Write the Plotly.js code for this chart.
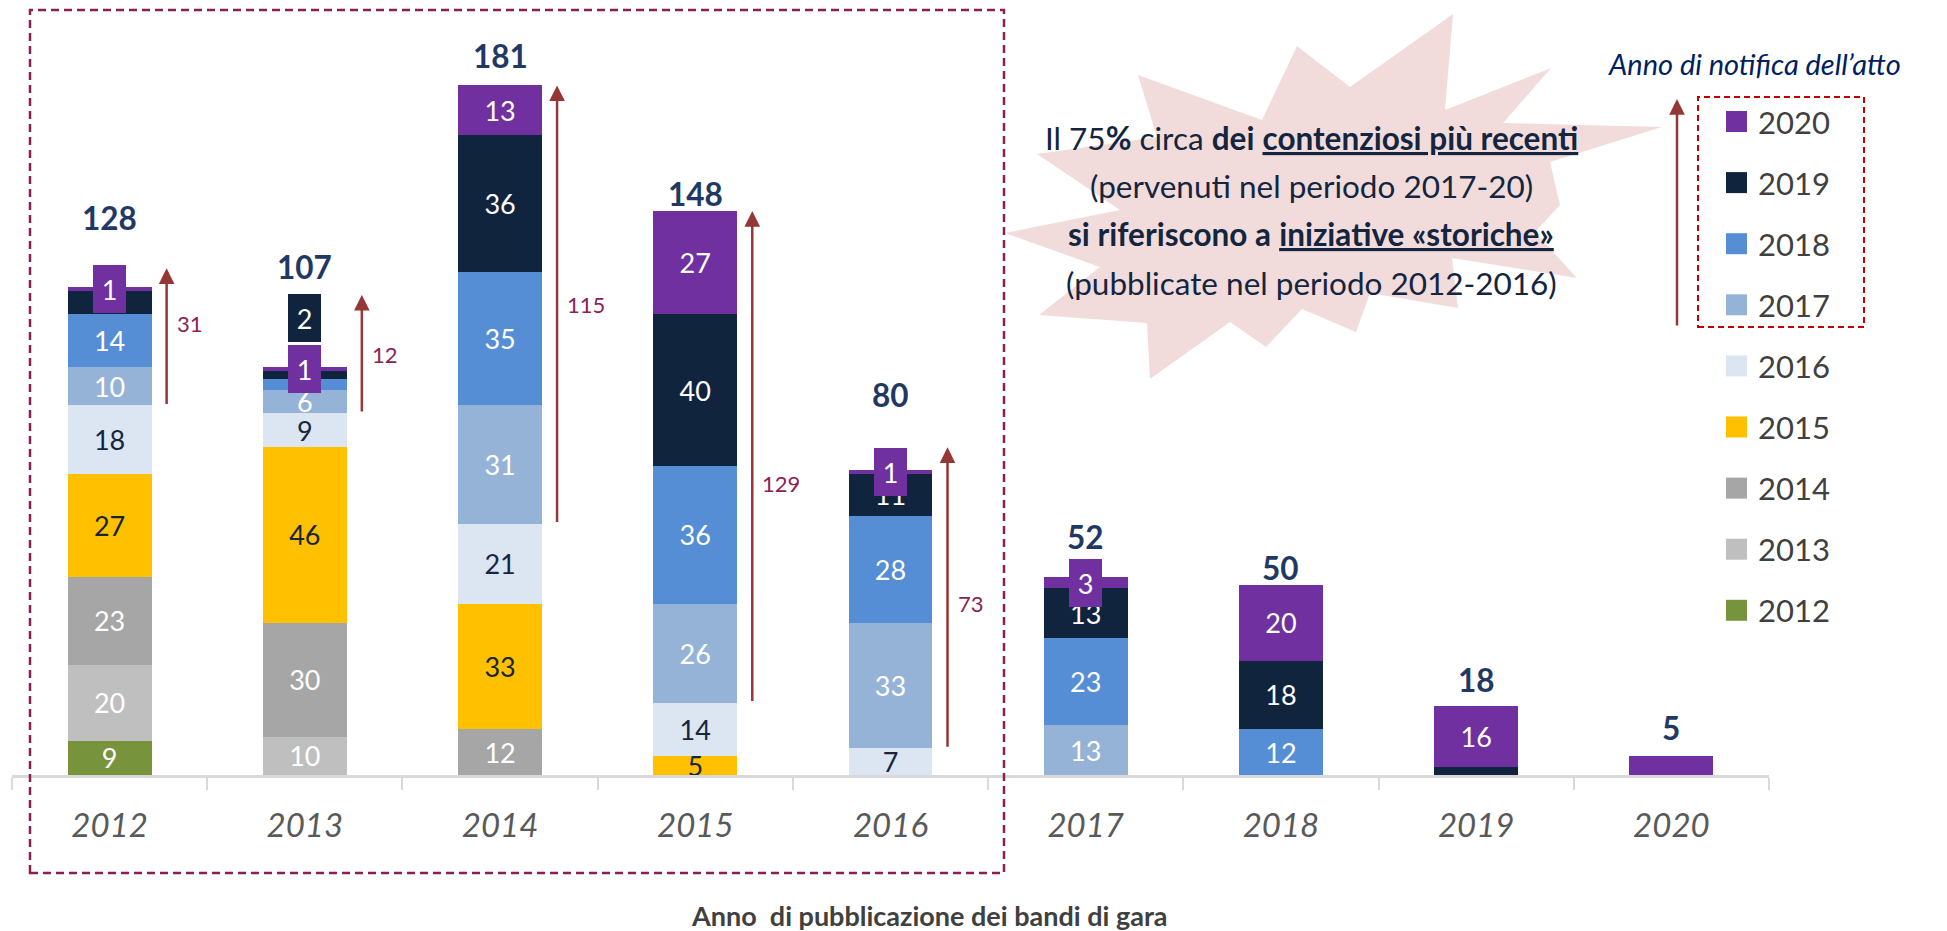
<!DOCTYPE html>
<html>
<head>
<meta charset="utf-8">
<script src="https://cdn.plot.ly/plotly-3.0.1.min.js"></script>
<style>
html,body{margin:0;padding:0;background:#ffffff;}
#chart{width:1947px;height:931px;}
</style>
</head>
<body>
<div id="chart"></div>
<script>
// ---------------- DATA ----------------
// Publication year of the tender (x categories)
const categories = ['2012','2013','2014','2015','2016','2017','2018','2019','2020'];
// Notification year of the act (stacked series, bottom to top)
const seriesNames = ['2012','2013','2014','2015','2016','2017','2018','2019','2020'];
const notif2012 = [9, 0, 0, 0, 0, 0, 0, 0, 0];
const notif2013 = [20, 10, 0, 0, 0, 0, 0, 0, 0];
const notif2014 = [23, 30, 12, 0, 0, 0, 0, 0, 0];
const notif2015 = [27, 46, 33, 5, 0, 0, 0, 0, 0];
const notif2016 = [18, 9, 21, 14, 7, 0, 0, 0, 0];
const notif2017 = [10, 6, 31, 26, 33, 13, 0, 0, 0];
const notif2018 = [14, 3, 35, 36, 28, 23, 12, 0, 0];
const notif2019 = [6, 2, 36, 40, 11, 13, 18, 2, 0];
const notif2020 = [1, 1, 13, 27, 1, 3, 20, 16, 5];
const seriesValues = [notif2012, notif2013, notif2014, notif2015, notif2016,
                      notif2017, notif2018, notif2019, notif2020];
// historical tenders and recent notifications (for the arrows)
const historicalBars = ['2012','2013','2014','2015','2016'];
const recentSeries = ['2017','2018','2019','2020'];
// thin segments whose value is shown in a callout box
const callouts = [
  {bar:'2012', series:'2020'},
  {bar:'2013', series:'2019'},
  {bar:'2013', series:'2020'},
  {bar:'2016', series:'2020'},
  {bar:'2017', series:'2020'}
];
// segment labels hidden behind a callout box in the original
const hiddenLabels = ['2012|2019'];
const legendTitle = 'Anno di notifica dell\u2019atto';
const axisTitle = 'Anno\u00a0 di pubblicazione dei bandi di gara';
const noteLines = [
  'Il 75<b>%</b> circa <b>dei</b> <b><u>contenziosi più recenti</u></b>',
  '(pervenuti nel periodo 2017-20)',
  '<b>si riferiscono a</b> <b><u>iniziative «storiche»</u></b>',
  '(pubblicate nel periodo 2012-2016)'
];

// ---------------- STYLE ----------------
const seriesColors = ['#77933C','#BFBFBF','#A6A6A6','#FFC000','#DCE6F2',
                      '#95B3D7','#558ED5','#10243E','#7030A0'];
const labelColors = ['#FFFFFF','#FFFFFF','#FFFFFF','#17253F','#17253F',
                     '#FFFFFF','#FFFFFF','#FFFFFF','#FFFFFF'];
const totalShift = [69, 100, 29, 17, 75, 40, 17, 26, 28];   // px above bar top
const calloutLift = {'2013|2019': 57};                       // px
const arrowTipPad = [5, 19, 0, 0, 6];                        // y-units above total
const arrowLabelShift = [13, 0, 0, -27, -6];                 // px
const ARROW_DX = 0.292;                                      // category units
const FONT = 'Lato';

const W = 1947, H = 931, ML = 12, MR = 178, MT = 13, MB = 156;
const PW = W - ML - MR, PH = H - MT - MB;
const px = x => (x - ML) / PW;
const py = y => (H - MB - y) / PH;

// ---------------- TRACES ----------------
const totals = categories.map((c, i) => seriesValues.reduce((a, s) => a + s[i], 0));

const traces = seriesNames.map((name, s) => ({
  type: 'bar',
  name: name,
  x: categories,
  y: seriesValues[s],
  marker: {color: seriesColors[s], line: {width: 0}},
  text: seriesValues[s].map((v, i) =>
    (v >= 5 && v < totals[i] && !hiddenLabels.includes(categories[i] + '|' + name)) ? String(v) : ''),
  textposition: 'inside',
  insidetextanchor: 'middle',
  constraintext: 'none',
  textangle: 0,
  cliponaxis: false,
  textfont: {family: FONT, size: 27, color: labelColors[s]},
  showlegend: false,
  hovertemplate: 'Bando %{x}<br>Notifica ' + name + ': %{y}<extra></extra>'
}));

// ---------------- ANNOTATIONS ----------------
// (category axis positions are given as category index)
const annotations = [];

// totals
categories.forEach((c, i) => {
  annotations.push({
    x: i, y: totals[i], xref: 'x', yref: 'y', yshift: totalShift[i],
    text: String(totals[i]), showarrow: false, xanchor: 'center', yanchor: 'middle',
    font: {family: FONT, size: 31.5, weight: 700, color: '#1F3864'}
  });
});

// callout boxes
callouts.forEach(co => {
  const i = categories.indexOf(co.bar);
  const s = seriesNames.indexOf(co.series);
  let base = 0;
  for (let k = 0; k < s; k++) base += seriesValues[k][i];
  const v = seriesValues[s][i];
  annotations.push({
    x: i, y: base + v / 2, xref: 'x', yref: 'y',
    yshift: calloutLift[co.bar + '|' + co.series] || 0,
    text: String(v), showarrow: false, xanchor: 'center', yanchor: 'middle',
    bgcolor: seriesColors[s], borderpad: 0, borderwidth: 0, width: 33, height: 48,
    font: {family: FONT, size: 27, color: '#FFFFFF'}
  });
});

// arrows for historical tenders
historicalBars.forEach((b, j) => {
  const i = categories.indexOf(b);
  let older = 0, recent = 0;
  seriesNames.forEach((n, s) => {
    if (recentSeries.includes(n)) recent += seriesValues[s][i];
    else older += seriesValues[s][i];
  });
  const tip = totals[i] + arrowTipPad[j];
  annotations.push({
    x: i + ARROW_DX, y: tip, xref: 'x', yref: 'y',
    ax: i + ARROW_DX, ay: older, axref: 'x', ayref: 'y',
    text: '', showarrow: true, arrowhead: 2, arrowsize: 1.25, arrowwidth: 2.5,
    arrowcolor: '#953735', standoff: 0, startstandoff: 0
  });
  annotations.push({
    x: i + ARROW_DX, y: (older + tip) / 2, xref: 'x', yref: 'y',
    xshift: 8, yshift: arrowLabelShift[j],
    text: String(recent), showarrow: false, xanchor: 'left', yanchor: 'middle',
    font: {family: FONT, size: 22, color: '#8B2252'}
  });
});

// note inside the starburst
const noteY = [137.5, 186, 234, 282.5];
noteLines.forEach((t, k) => {
  annotations.push({
    x: px(1311), y: py(noteY[k]), xref: 'paper', yref: 'paper',
    text: t, showarrow: false, xanchor: 'center', yanchor: 'middle',
    font: {family: FONT, size: 31.5, color: '#14253F'}
  });
});

// legend title
annotations.push({
  x: px(1606), y: py(64), xref: 'paper', yref: 'paper', text: legendTitle,
  showarrow: false, xanchor: 'left', yanchor: 'middle',
  font: {family: FONT, size: 29, style: 'italic', color: '#002060'}
});

// legend arrow
annotations.push({
  x: px(1677), y: py(99), xref: 'paper', yref: 'paper',
  ax: 0, ay: 228, axref: 'pixel', ayref: 'pixel', text: '',
  showarrow: true, arrowhead: 2, arrowsize: 1.25, arrowwidth: 2.5,
  arrowcolor: '#953735', standoff: 0
});

// axis title
annotations.push({
  x: px(929), y: py(915), xref: 'paper', yref: 'paper', text: axisTitle,
  showarrow: false, xanchor: 'center', yanchor: 'middle',
  font: {family: FONT, size: 27, weight: 700, color: '#404040'}
});

// ---------------- SHAPES ----------------
const shapes = [];

// starburst (decoration)
const starPts = [
  [1453,14],[1445,110],[1551,68],[1503,123],[1662,127],[1550,162],[1560,205],
  [1535,232],[1577,278],[1452,258],[1458,308],[1370,293],[1356,332],[1302,309],
  [1266,347],[1230,322],[1150,379],[1147,323],[1039,315],[1100,267],[1005,233],
  [1120,210],[1037,154],[1157,137],[1138,75],[1262,120],[1297,46],[1350,87]
];
shapes.push({
  type: 'path', xref: 'paper', yref: 'paper', layer: 'below',
  path: 'M' + starPts.map(p => px(p[0]).toFixed(5) + ',' + py(p[1]).toFixed(5)).join('L') + 'Z',
  fillcolor: '#F2DCDB', line: {width: 0}
});

// dashed frame around historical tenders
shapes.push({
  type: 'rect', xref: 'paper', yref: 'paper',
  x0: px(30), x1: px(1004), y0: py(873), y1: py(10),
  line: {color: '#8B1F52', width: 2.5, dash: '8px,5px'}, fillcolor: 'rgba(0,0,0,0)'
});

// custom legend (2020 on top)
const legendOrder = seriesNames.slice().reverse();
legendOrder.forEach((n, k) => {
  const s = seriesNames.indexOf(n);
  const yc = 121.5 + k * 61.1;
  shapes.push({
    type: 'rect', xref: 'paper', yref: 'paper',
    x0: px(1726), x1: px(1747), y0: py(yc + 10.5), y1: py(yc - 10.5),
    fillcolor: seriesColors[s], line: {width: 0}
  });
  annotations.push({
    x: px(1756), y: py(yc), xref: 'paper', yref: 'paper', text: n,
    showarrow: false, xanchor: 'left', yanchor: 'middle',
    font: {family: FONT, size: 31, color: '#404040'}
  });
});

// dashed box around recent notification years in the legend
shapes.push({
  type: 'rect', xref: 'paper', yref: 'paper',
  x0: px(1698), x1: px(1864), y0: py(327), y1: py(97),
  line: {color: '#C00000', width: 2, dash: '6px,4px'}, fillcolor: 'rgba(0,0,0,0)'
});

// ---------------- LAYOUT ----------------
const layout = {
  width: W, height: H,
  margin: {l: ML, r: MR, t: MT, b: MB, pad: 0},
  paper_bgcolor: '#FFFFFF', plot_bgcolor: '#FFFFFF',
  font: {family: FONT, color: '#404040'},
  barmode: 'stack',
  bargap: 0.57,
  showlegend: false,
  xaxis: {
    type: 'category', categoryorder: 'array', categoryarray: categories,
    range: [-0.5, 8.5], showgrid: false, zeroline: false,
    showline: true, linecolor: '#D9D9D9', linewidth: 2.5,
    ticks: 'outside', tickson: 'boundaries', ticklen: 12, tickwidth: 2, tickcolor: '#D9D9D9',
    tickfont: {family: FONT, size: 33, style: 'italic', color: '#595959'},
    ticklabelstandoff: 20, fixedrange: true
  },
  yaxis: {range: [0, 200], visible: false, fixedrange: true},
  annotations: annotations,
  shapes: shapes
};

Plotly.newPlot('chart', traces, layout, {displayModeBar: false, responsive: false});
</script>
</body>
</html>
